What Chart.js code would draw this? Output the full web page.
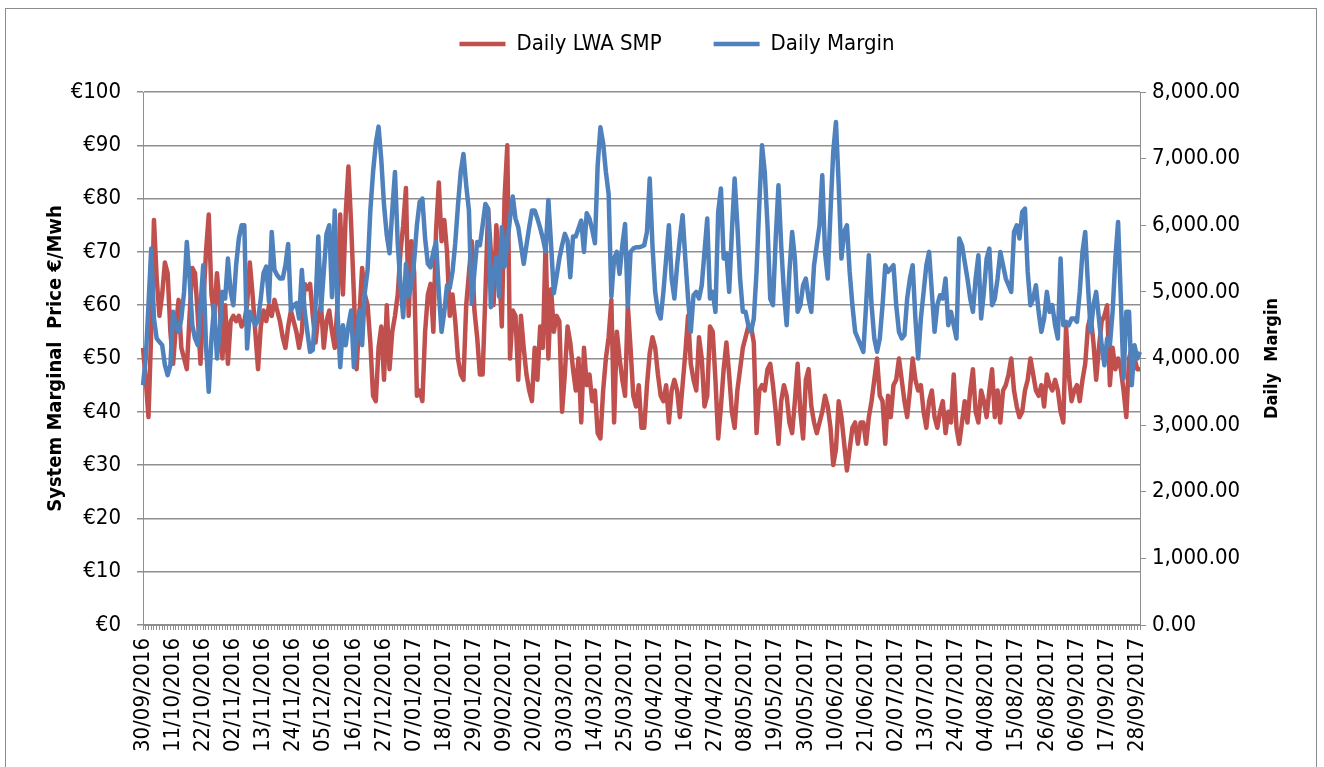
<!DOCTYPE html>
<html>
<head>
<meta charset="utf-8">
<script src="https://cdn.jsdelivr.net/npm/chart.js@4.4.1/dist/chart.umd.min.js"></script>
<style>
  body { margin: 0; background: #fff; }
  #wrap { position: relative; width: 1324px; height: 767px; overflow: hidden; }
  #frame { position: absolute; left: 5px; top: 8px; width: 1310px; height: 800px; border: 1px solid #8c8c8c; pointer-events: none; }
</style>
</head>
<body>
<div id="wrap">
  <canvas id="chart" width="1324" height="767"></canvas>
  <div id="frame"></div>
</div>
<script>
// first day of the series, one value per day
const startDate = [2016, 9, 30];
const dayCount = 365;
const labelEvery = 11;

const smp = [
  52,46,39,55,76,65,58,62,68,66,55,49,56,61,52,50,48,58,67,66,58,49,60,70,77,62,58,66,60,50,60,49,57,58,57,58,56,
  57,60,68,62,55,48,56,59,57,60,58,61,59,57,54,52,56,59,57,55,52,55,64,63,64,58,53,58,60,52,57,59,55,52,60,77,62,
  77,86,75,62,48,58,67,62,60,53,43,42,52,56,46,60,48,55,58,62,70,75,82,58,72,66,43,44,42,55,62,64,55,74,83,72,
  76,70,58,62,57,50,47,46,60,66,72,59,54,47,47,62,78,70,60,75,68,56,80,90,50,59,58,46,58,52,47,44,42,52,46,56,52,
  72,50,63,55,58,57,40,47,56,53,48,44,50,38,52,45,47,42,44,36,35,44,50,54,61,38,55,50,46,43,60,52,43,41,45,37,
  37,45,51,54,52,47,43,42,45,38,44,46,44,39,45,51,58,49,46,44,54,50,41,43,56,55,46,35,41,48,53,47,40,37,44,48,52,
  54,56,56,53,36,44,45,44,48,49,45,40,34,42,45,43,38,36,42,49,40,35,46,48,41,38,36,38,40,43,41,37,30,
  33,42,39,34,29,33,37,38,34,38,38,34,39,42,46,50,43,42,34,43,39,45,46,50,46,42,39,44,50,46,44,45,40,37,42,44,39,37,40,42,
  36,40,38,47,37,34,38,42,38,44,48,40,38,44,42,39,44,48,39,44,38,44,45,47,50,44,41,39,40,44,46,50,47,44,43,45,
  41,47,45,44,46,44,40,38,56,47,42,44,45,42,46,49,56,58,53,46,52,57,58,60,45,52,48,50,48,44,39,50,52,50,48,48
];

const margin = [
  3600,4000,4800,5650,4600,4300,4250,4200,3900,3750,3900,4700,4500,4400,4600,5000,5750,5200,4500,4300,4200,4800,5400,4200,3500,4300,4800,4000,4400,5000,4900,5500,5000,4800,5400,5800,6000,
  6000,4150,4700,4600,4500,4580,4900,5280,5380,4850,5900,5330,5250,5200,5200,5400,5720,4720,4800,4830,4600,5330,4720,4400,4100,4130,4800,5830,4720,5300,5870,6000,4920,6220,4720,3870,4500,
  4200,4500,4720,3870,4300,4720,4200,5000,5330,6220,6800,7230,7480,6980,6300,5850,5580,6220,6800,5730,5100,4620,5420,4930,5100,5470,6000,6350,6400,5800,5420,5370,5600,5750,5000,4400,
  4700,5100,5060,5300,5730,6300,6800,7070,6600,6220,4820,5300,5750,5700,6000,6320,6250,4770,5300,5520,4930,5970,5380,5730,6100,6430,6100,5970,5700,5420,5700,5970,6220,6220,6100,5960,5800,
  5600,6380,5700,4980,5230,5500,5700,5870,5770,5220,5830,5830,5950,6070,5600,6180,6100,5930,5730,6900,7470,7230,6800,6470,4930,5500,5600,5270,5700,6020,4780,5600,5650,5670,5670,5680,
  5700,5900,6700,5700,5000,4700,4600,5000,5500,6000,5200,4900,5400,5800,6150,5500,4900,4400,4950,5000,4900,5100,5600,6100,4900,5000,4700,6200,6550,5500,5580,5000,5900,6700,6000,5200,4700,
  4700,4500,4400,4600,5300,6300,7200,6800,6000,4900,4800,5800,6600,5700,5000,4500,5300,5900,5500,4700,4800,5100,5200,4900,4700,5400,5700,6000,6750,5600,5200,6200,7100,
  7550,6600,5500,5900,6000,5300,4800,4400,4300,4200,4100,4800,5550,4800,4300,4100,4300,4800,5400,5300,5350,5400,4800,4400,4300,4350,4900,5200,5400,4600,4000,4600,5000,5400,5600,5000,4400,4800,4950,4900,
  5200,4500,4700,4500,4300,5800,5700,5450,5200,4900,4700,5200,5550,4600,5000,5500,5650,4800,4900,5200,5600,5400,5200,5100,5000,5900,6000,5800,6200,6250,5300,4800,4900,5100,4700,4400,
  4600,5000,4700,4800,4500,4300,5500,4500,4550,4500,4600,4600,4550,5000,5600,5900,5100,4400,4800,5000,4600,4200,3900,4300,4200,4700,5500,6050,4900,3700,4700,4700,3600,4200,4000,4100
];

const dates = [];
for (let i = 0; i < dayCount; i++) {
    const d = new Date(Date.UTC(startDate[0], startDate[1] - 1, startDate[2] + i));
    const dd = String(d.getUTCDate()).padStart(2, '0');
    const mm = String(d.getUTCMonth() + 1).padStart(2, '0');
    dates.push(dd + '/' + mm + '/' + d.getUTCFullYear());
}

const fontFamily = '"DejaVu Sans Condensed", "DejaVu Sans", sans-serif';
const tickFont = { family: fontFamily, size: 22 };
const gridColor = '#8f8f8f';

// legend band: starts above the canvas so its wide item padding does not push it down
const legendHeight = {
    id: 'legendHeight',
    beforeInit(chart) {
        const fit = chart.legend.fit;
        chart.legend.fit = function () {
            fit.call(this);
            this.height = 111;
        };
    }
};

// right axis title reads bottom-to-top like the left one
const rightTitle = {
    id: 'rightTitle',
    afterDraw(chart) {
        const ctx = chart.ctx;
        const area = chart.chartArea;
        ctx.save();
        ctx.translate(chart.scales.y1.right - 52, (area.top + area.bottom) / 2);
        ctx.rotate(-Math.PI / 2);
        ctx.font = 'bold 18px ' + fontFamily;
        ctx.fillStyle = '#000';
        ctx.textAlign = 'center';
        ctx.textBaseline = 'middle';
        ctx.fillText('Daily  Margin', 0, 0);
        ctx.restore();
    }
};

new Chart(document.getElementById('chart').getContext('2d'), {
    type: 'line',
    data: {
        labels: dates,
        datasets: [{
            label: 'Daily LWA SMP',
            data: smp,
            yAxisID: 'y',
            borderColor: '#C0504D',
            backgroundColor: '#C0504D',
            borderWidth: 4.5,
            pointRadius: 0,
            tension: 0,
            borderJoinStyle: 'round',
            order: 1
        }, {
            label: 'Daily Margin',
            data: margin,
            yAxisID: 'y1',
            borderColor: '#4F81BD',
            backgroundColor: '#4F81BD',
            borderWidth: 4.5,
            pointRadius: 0,
            tension: 0,
            borderJoinStyle: 'round',
            order: 0
        }]
    },
    options: {
        responsive: false,
        animation: false,
        layout: { padding: { top: -19, left: 30, right: 0, bottom: 0 } },
        plugins: {
            legend: {
                position: 'top',
                labels: {
                    usePointStyle: true,
                    pointStyle: 'line',
                    pointStyleWidth: 46,
                    padding: 52,
                    color: '#000',
                    font: { family: fontFamily, size: 22 },
                    sort: (a, b) => a.datasetIndex - b.datasetIndex
                }
            },
            tooltip: { enabled: false }
        },
        scales: {
            x: {
                offset: false,
                afterFit(scale) { scale.height = 142; },
                grid: { drawOnChartArea: false, tickLength: 5, color: gridColor },
                border: { color: gridColor },
                ticks: {
                    autoSkip: false,
                    minRotation: 90,
                    maxRotation: 90,
                    padding: 8,
                    color: '#000',
                    font: tickFont,
                    callback: function (val, idx) {
                        return idx % labelEvery === 0 ? this.getLabelForValue(val) : '';
                    }
                }
            },
            y: {
                position: 'left',
                min: 0,
                max: 100,
                afterFit(scale) { scale.width = 113; },
                grid: { color: gridColor, tickLength: 6, lineWidth: 1.5 },
                border: { color: gridColor },
                ticks: {
                    stepSize: 10,
                    padding: 16,
                    color: '#000',
                    font: tickFont,
                    callback: v => '€' + v
                },
                title: {
                    display: true,
                    text: 'System Marginal  Price €/Mwh',
                    color: '#000',
                    padding: { top: 14, bottom: 0 },
                    font: { family: fontFamily, size: 20, weight: 'bold' }
                }
            },
            y1: {
                position: 'right',
                min: 0,
                max: 8000,
                afterFit(scale) { scale.width = 184; },
                grid: { drawOnChartArea: false, color: gridColor, tickLength: 6 },
                border: { color: gridColor },
                ticks: {
                    stepSize: 1000,
                    padding: 6,
                    color: '#000',
                    font: tickFont,
                    callback: v => v.toLocaleString('en-US', { minimumFractionDigits: 2, maximumFractionDigits: 2 })
                }
            }
        }
    },
    plugins: [legendHeight, rightTitle]
});
</script>
</body>
</html>
